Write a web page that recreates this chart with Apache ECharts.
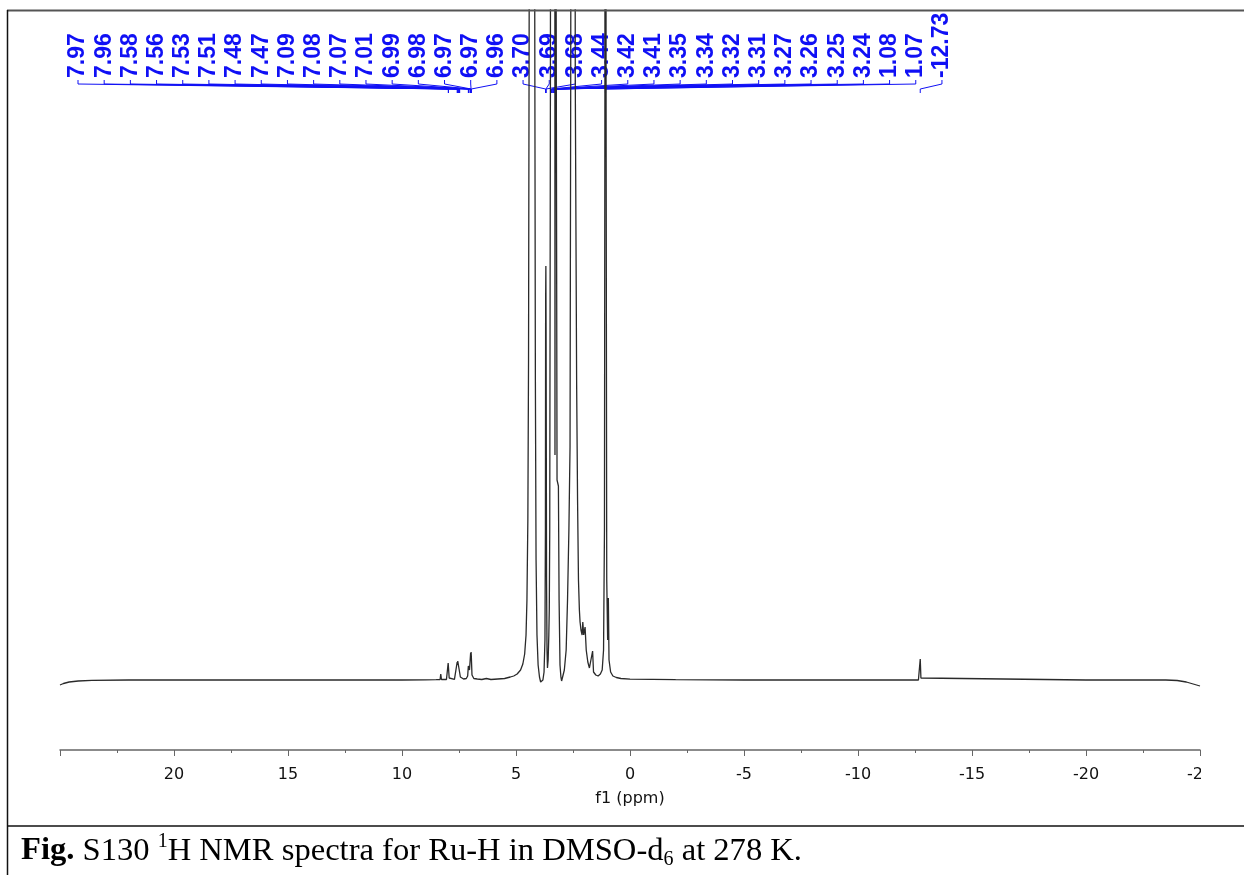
<!DOCTYPE html>
<html><head><meta charset="utf-8">
<script src="https://cdn.jsdelivr.net/npm/echarts@6/dist/echarts.min.js"></script>
<style>html,body{margin:0;padding:0;background:#fff}#c{width:1244px;height:875px}</style>
</head><body><div id="c"></div>
<script>
// chemical shift (ppm) and intensity (arbitrary units, baseline = 0)
const ppm = [25.0, 24.85, 24.6, 24.2, 23.6, 22.0, 15.0, 10.0, 9.0, 8.5,
  8.33, 8.30, 8.27,
  8.05, 8.00, 7.975, 7.965, 7.955, 7.93, 7.85,
  7.70, 7.62, 7.58, 7.565, 7.555, 7.53, 7.515, 7.505, 7.48, 7.47, 7.44, 7.30,
  7.18, 7.12, 7.09, 7.08, 7.07, 7.04, 7.01, 6.99, 6.98, 6.97, 6.96, 6.93, 6.85, 6.70, 6.50, 6.30, 6.10, 5.80, 5.50, 5.25, 5.10,
  4.95, 4.80, 4.70, 4.62, 4.56, 4.52, 4.48, 4.45, 4.42, 4.38, 4.30, 4.22, 4.18, 4.15, 4.12, 4.08, 4.03, 3.97, 3.92, 3.87, 3.82, 3.77,
  3.73, 3.71, 3.70, 3.69, 3.68, 3.66, 3.64, 3.62, 3.59, 3.56, 3.54, 3.52, 3.49, 3.46, 3.44, 3.42, 3.41, 3.38, 3.35, 3.34, 3.32, 3.30, 3.29,
  3.27, 3.26, 3.25, 3.24, 3.20, 3.14, 3.11, 3.07, 3.03, 3.00, 2.95, 2.88, 2.80, 2.74, 2.68, 2.63, 2.60, 2.56, 2.52, 2.50, 2.48, 2.44, 2.40,
  2.34, 2.30, 2.26, 2.22, 2.19, 2.15, 2.10, 2.07, 2.03, 1.97, 1.92, 1.85, 1.78, 1.70, 1.64, 1.60, 1.50, 1.40, 1.30, 1.22, 1.16, 1.12, 1.10,
  1.08, 1.07, 1.05, 1.02, 0.98, 0.95, 0.92, 0.85, 0.75, 0.60, 0.40, 0.00, -2.0, -5.0,
  -12.65, -12.70, -12.73, -12.76, -12.80, -20.0, -23.5, -24.0, -24.4, -24.7, -25.0];
const intensity = [-5, -3.5, -2, -1, -0.3, 0, 0, 0, 0.2, 0.3,
  0.5, 6, 0.5,
  0.5, 2, 17, 15, 17, 2, 0.5,
  0.6, 2, 18, 15, 19, 20, 17, 20, 19, 18, 3, 1,
  1.5, 4, 14, 12, 15, 10, 20, 27, 24, 28, 24, 5, 1.5, 1, 0.5, 1.5, 0.5, 1, 1.5, 3, 4,
  6, 10, 16, 26, 45, 80, 160, 320, 700, 1500, 3000, 1500, 700, 300, 120, 45, 15, 3, -2, -3, 0, 8,
  40, 150, 380, 414, 350, 100, 30, 12, 20, 45, 71, 150, 600, 3000, 4000, 3500, 3000, 1500, 3000, 3500, 3000, 1200, 225,
  1000, 900, 800, 700, 200, 194, 80, 15, 3, -1, 1, 10, 30, 80, 150, 233, 600, 1500, 3000, 4000, 3000, 1500, 600,
  295, 180, 100, 70, 58, 50, 45, 58, 45, 53, 30, 18, 12, 10, 29, 8, 5, 4, 6, 10, 30, 150, 600,
  3000, 3000, 600, 100, 40, 82, 20, 8, 4, 2.5, 1.5, 0.8, 0.3, 0,
  0, 2, 21, 2, 0, 0, 0, -0.5, -2, -4, -6];
// peak picking labels (top of the spectrum)
const peakLabels = ['7.97','7.96','7.58','7.56','7.53','7.51','7.48','7.47','7.09','7.08','7.07','7.01',
  '6.99','6.98','6.97','6.97','6.96','3.70','3.69','3.68','3.44','3.42','3.41','3.35','3.34','3.32',
  '3.31','3.27','3.26','3.25','3.24','1.08','1.07','-12.73'];
const xTicks = [25, 20, 15, 10, 5, 0, -5, -10, -15, -20, -25];
const axisName = 'f1 (ppm)';

const BLUE = '#1010f5';
const LABEL_X0 = 78, LABEL_STEP = 26.18, LABEL_BOTTOM = 78;

const chart = echarts.init(document.getElementById('c'), null, {renderer: 'canvas'});
chart.setOption({
  animation: false,
  backgroundColor: '#fff',
  grid: {left: 60, right: 44, top: 10, bottom: 125},
  xAxis: {
    type: 'value', inverse: true, min: xTicks[xTicks.length - 1], max: xTicks[0], interval: 5,
    name: axisName, nameLocation: 'middle', nameGap: 41,
    nameTextStyle: {fontFamily: 'DejaVu Sans', fontSize: 16, color: '#111'},
    axisLine: {onZero: false, lineStyle: {color: '#666', width: 1.5}},
    axisTick: {show: true, length: 6, lineStyle: {color: '#666'}},
    minorTick: {show: true, splitNumber: 2, length: 3, lineStyle: {color: '#666'}},
    splitLine: {show: false},
    axisLabel: {margin: 17, fontFamily: 'DejaVu Sans', fontSize: 16, color: '#111',
      formatter: v => (v === xTicks[0] ? '' : String(v))}
  },
  yAxis: {type: 'value', min: -70, max: 670, show: false},
  series: [
    {type: 'line', data: ppm.map((p, i) => [p, intensity[i]]), showSymbol: false, clip: true,
     lineStyle: {color: '#2a2a2a', width: 1.3}, silent: true},
    {type: 'custom', coordinateSystem: 'cartesian2d', clip: false, silent: true,
     data: peakLabels.map((t, i) => [parseFloat(t), 0, i]),
     encode: {x: 0, y: 1},
     renderItem: function (params, api) {
       const i = params.dataIndex;
       const px = api.coord([api.value(0), 0])[0];
       const sx = LABEL_X0 + i * LABEL_STEP;
       return {type: 'group', children: [
         {type: 'polyline', shape: {points: [[sx, 80], [sx, 84], [px, 89], [px, 93]]},
          style: {stroke: BLUE, lineWidth: 1, fill: null}},
         {type: 'text', x: sx, y: LABEL_BOTTOM, rotation: Math.PI / 2,
          style: {text: peakLabels[i], fill: BLUE, font: 'bold 23px "Liberation Sans", Arial, sans-serif',
                  align: 'left', verticalAlign: 'middle', textAlign: 'left', textVerticalAlign: 'middle'}}
       ]};
     }}
  ],
  graphic: [
    {type: 'line', shape: {x1: 7, y1: 10.5, x2: 1244, y2: 10.5}, style: {stroke: '#555', lineWidth: 2}, z: 100},
    {type: 'line', shape: {x1: 7.5, y1: 10, x2: 7.5, y2: 875}, style: {stroke: '#111', lineWidth: 1.5}, z: 100},
    {type: 'line', shape: {x1: 7, y1: 826, x2: 1244, y2: 826}, style: {stroke: '#111', lineWidth: 1.5}, z: 100},
    {type: 'rect', shape: {x: 1201, y: 757, width: 43, height: 30}, style: {fill: '#fff'}, z: 100},
    {type: 'text', x: 21, y: 851, z: 100,
     style: {text: '{b|Fig.} S130 {sup|1}H NMR spectra for Ru-H in DMSO-d{sub|6} at 278 K.',
       font: '32.6px "Liberation Serif", "Times New Roman", serif', fill: '#000', verticalAlign: 'middle',
       rich: {
         b: {fontFamily: 'Liberation Serif', fontSize: 32.6, fontWeight: 'bold', lineHeight: 38},
         sup: {fontFamily: 'Liberation Serif', fontSize: 20, lineHeight: 20, verticalAlign: 'top'},
         sub: {fontFamily: 'Liberation Serif', fontSize: 20, lineHeight: 20, verticalAlign: 'bottom'}
       }}}
  ]
});
</script></body></html>
